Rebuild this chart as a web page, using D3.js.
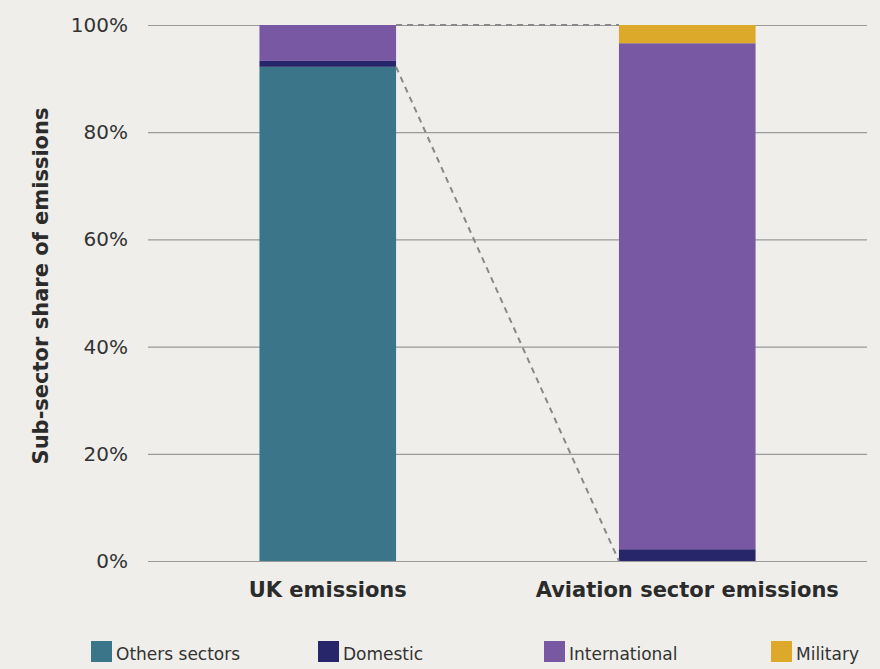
<!DOCTYPE html>
<html>
<head>
<meta charset="utf-8">
<script src="https://cdn.jsdelivr.net/npm/d3@7"></script>
<style>
  body { margin: 0; background: #efeeea; }
  svg { display: block; font-family: "DejaVu Sans", sans-serif; }
</style>
</head>
<body>
<div id="chart"></div>
<script>
const categories = ["UK emissions", "Aviation sector emissions"]
const seriesNames = ["Others sectors", "Domestic", "International", "Military"]
const othersSectors = [92.2, 0]
const domestic = [1.1, 2.2]
const international = [6.7, 94.4]
const military = [0, 3.4]
const yTicks = [0, 20, 40, 60, 80, 100]
const colors = ["#3a7589", "#28266b", "#7857a3", "#dda92a"]

let width = 880, height = 669
let margin = {top: 25, right: 13, bottom: 108, left: 148}
let innerWidth = width - margin.left - margin.right
let innerHeight = height - margin.top - margin.bottom

let svg = d3.select("#chart").append("svg")
  .attr("width", width).attr("height", height)

svg.append("rect").attr("width", width).attr("height", height).attr("fill", "#efeeea")

let g = svg.append("g").attr("transform", "translate(" + margin.left + "," + margin.top + ")")

let x = d3.scaleBand().domain(categories).range([0, innerWidth]).paddingInner(0.62).paddingOuter(0.31)
let y = d3.scaleLinear().domain([0, 100]).range([innerHeight, 0])

let rows = categories.map((c, i) => ({
  cat: c,
  "Others sectors": othersSectors[i],
  "Domestic": domestic[i],
  "International": international[i],
  "Military": military[i]
}))
let stacked = d3.stack().keys(seriesNames)(rows)

// gridlines
let yAxis = g.append("g")
  .call(d3.axisLeft(y).tickValues(yTicks).tickSize(-innerWidth).tickFormat(d => d + "%"))
yAxis.select(".domain").remove()
yAxis.selectAll(".tick line").attr("stroke", "#9a9a9a").attr("stroke-width", 1.2)
yAxis.selectAll(".tick text")
  .attr("x", -20).attr("font-size", 20).attr("fill", "#333")
  .style("font-family", "'DejaVu Sans', sans-serif")

// bars
g.selectAll(".series").data(stacked).enter().append("g")
  .attr("fill", (d, i) => colors[i])
  .selectAll("rect").data(d => d).enter().append("rect")
  .attr("x", d => x(d.data.cat))
  .attr("y", d => y(d[1]))
  .attr("width", x.bandwidth())
  .attr("height", d => y(d[0]) - y(d[1]))

// connector dashed lines
let ukRight = x(categories[0]) + x.bandwidth()
let avLeft = x(categories[1])
let ukOther = othersSectors[0]
g.append("line")
  .attr("x1", ukRight).attr("y1", y(100)).attr("x2", avLeft).attr("y2", y(100))
  .attr("stroke", "#888").attr("stroke-width", 2).attr("stroke-dasharray", "6,5")
g.append("line")
  .attr("x1", ukRight).attr("y1", y(ukOther)).attr("x2", avLeft).attr("y2", y(0))
  .attr("stroke", "#888").attr("stroke-width", 2).attr("stroke-dasharray", "6,5")

// category labels
g.selectAll(".cat").data(categories).enter().append("text")
  .attr("x", d => x(d) + x.bandwidth() / 2)
  .attr("y", innerHeight + 36)
  .attr("text-anchor", "middle")
  .attr("font-size", 21).attr("font-weight", "bold").attr("fill", "#2b2b2b")
  .text(d => d)

// y axis title
svg.append("text")
  .attr("transform", "translate(48,286) rotate(-90)")
  .attr("text-anchor", "middle")
  .attr("font-size", 21).attr("font-weight", "bold").attr("fill", "#2b2b2b")
  .text("Sub-sector share of emissions")

// legend
let legendX = [91, 318, 544, 771]
let legend = svg.selectAll(".legend").data(seriesNames).enter().append("g")
  .attr("transform", (d, i) => "translate(" + legendX[i] + ",641)")
legend.append("rect").attr("width", 21).attr("height", 21).attr("fill", (d, i) => colors[i])
legend.append("text").attr("x", 25).attr("y", 19)
  .attr("font-size", 17).attr("fill", "#333").text(d => d)
</script>
</body>
</html>
